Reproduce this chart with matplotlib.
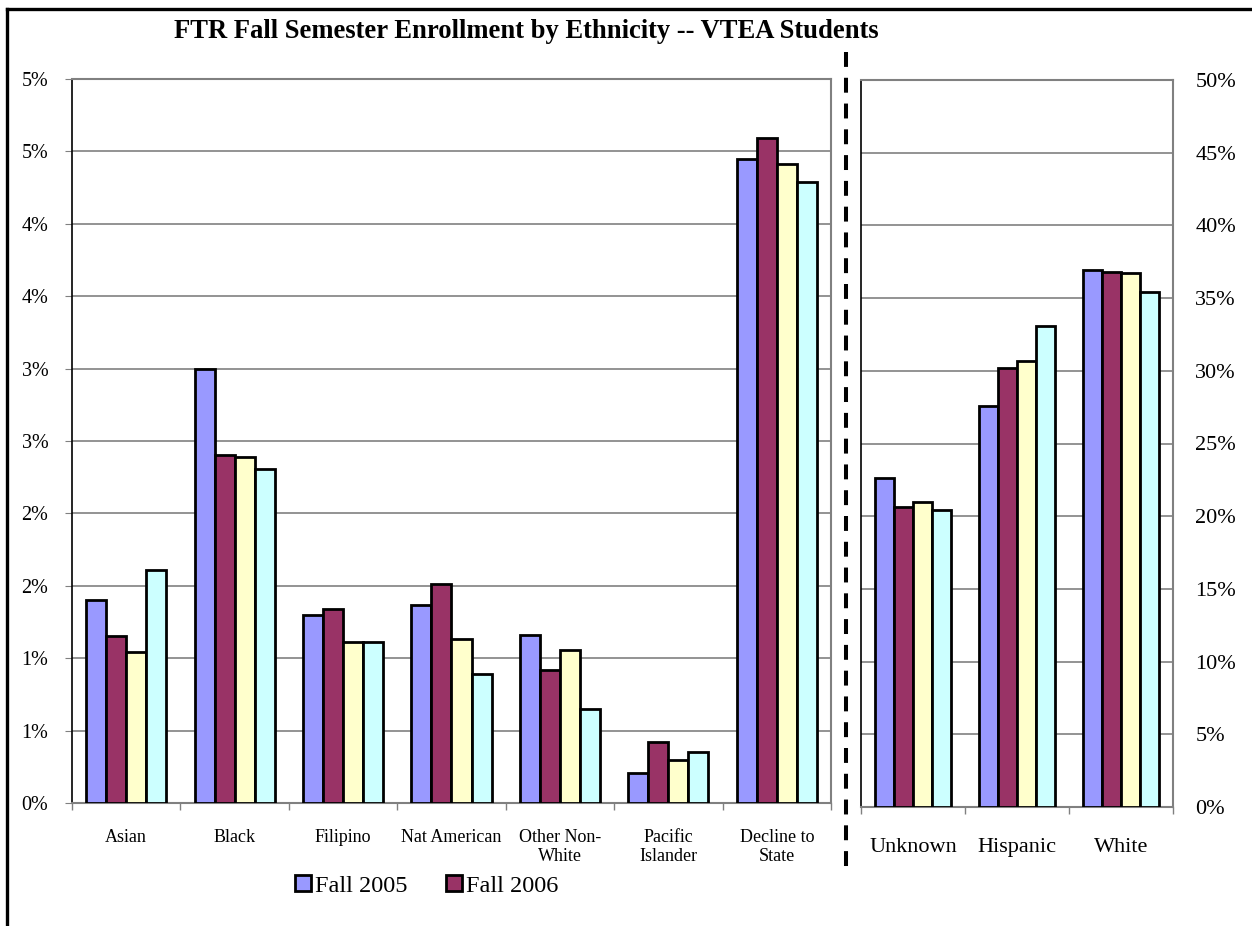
import matplotlib.pyplot as plt
import numpy as np
from matplotlib.lines import Line2D

plt.rcParams['font.family'] = ['Liberation Serif', 'DejaVu Serif']

# data (percent of enrollment)
left_cats = ['Asian', 'Black', 'Filipino', 'Nat American', 'Other Non-\nWhite',
             'Pacific\nIslander', 'Decline to\nState']
right_cats = ['Unknown', 'Hispanic', 'White']
series = ['Fall 2005', 'Fall 2006', 'Fall 2007', 'Fall 2008']
colors = ['#9999FF', '#993366', '#FFFFCC', '#CCFFFF']

left_vals = [
    [1.40, 3.00, 1.30, 1.37, 1.16, 0.21, 4.45],   # Fall 2005
    [1.15, 2.40, 1.34, 1.51, 0.92, 0.42, 4.59],   # Fall 2006
    [1.04, 2.39, 1.11, 1.13, 1.06, 0.30, 4.41],   # Fall 2007
    [1.61, 2.31, 1.11, 0.89, 0.65, 0.35, 4.29],   # Fall 2008
]
right_vals = [
    [22.6, 27.6, 36.9],
    [20.6, 30.2, 36.8],
    [21.0, 30.7, 36.7],
    [20.4, 33.1, 35.4],
]

left_ticks = [0, 0.5, 1, 1.5, 2, 2.5, 3, 3.5, 4, 4.5, 5]
left_tick_labels = ['0%', '1%', '1%', '2%', '2%', '3%', '3%', '4%', '4%', '5%', '5%']
right_ticks = [0, 5, 10, 15, 20, 25, 30, 35, 40, 45, 50]
right_tick_labels = ['0%', '5%', '10%', '15%', '20%', '25%', '30%', '35%', '40%', '45%', '50%']

W, H = 1252, 926
fig = plt.figure(figsize=(W / 100, H / 100), dpi=100)

ax1 = fig.add_axes([72 / W, 1 - 803 / H, 759 / W, 724 / H])
ax2 = fig.add_axes([861 / W, 1 - 807 / H, 312 / W, 727 / H])

grid_c = '#808080'


def draw_bars(ax, cats, vals, width):
    x = np.arange(len(cats))
    bars = []
    for i, (v, c) in enumerate(zip(vals, colors)):
        b = ax.bar(x + (i - 1.5) * width, v, width, color=c, edgecolor='black',
                   linewidth=2.0, label=series[i], zorder=3)
        bars.append(b)
    ax.set_xlim(-0.5, len(cats) - 0.5)
    ax.set_xticks(x)
    ax.set_xticks(np.arange(len(cats) + 1) - 0.5, minor=True)
    ax.tick_params(axis='x', which='major', length=0)
    ax.tick_params(axis='x', which='minor', length=5, color=grid_c, width=1)
    ax.yaxis.grid(True, color=grid_c, linewidth=1.2, zorder=0)
    ax.set_axisbelow(True)
    for s in ['top', 'right', 'bottom']:
        ax.spines[s].set_color(grid_c)
        ax.spines[s].set_linewidth(1.5)
    ax.spines['left'].set_color('black')
    ax.spines['left'].set_linewidth(1.2)
    return bars


bars = draw_bars(ax1, left_cats, left_vals, 0.1845)
ax1.set_ylim(0, 5)
ax1.set_yticks(left_ticks)
ax1.set_yticklabels(left_tick_labels, fontsize=14.5)
ax1.tick_params(axis='y', length=5, color=grid_c, pad=12)
ax1.set_xticklabels(left_cats, fontsize=13, linespacing=1.1, va='top')
ax1.tick_params(axis='x', which='major', pad=19)

draw_bars(ax2, right_cats, right_vals, 0.182)
ax2.set_ylim(0, 50)
ax2.set_yticks(right_ticks)
ax2.yaxis.tick_right()
ax2.set_yticklabels(right_tick_labels, fontsize=16)
ax2.tick_params(axis='y', length=0, pad=16)
ax2.set_xticklabels(right_cats, fontsize=16)
ax2.tick_params(axis='x', which='major', pad=22)

fig.text(526 / W, 1 - 32 / H, 'FTR Fall Semester Enrollment by Ethnicity -- VTEA Students',
         ha='center', va='center', fontsize=19.2, fontweight='bold')

# dashed divider between the two panels
fig.add_artist(Line2D([846 / W, 846 / W], [1 - 52 / H, 1 - 872 / H], color='black',
                      linewidth=2.9, dashes=(3.7, 2.7)))

# outer chart border (top and left edges visible)
fig.add_artist(Line2D([7 / W, 1], [1 - 9 / H, 1 - 9 / H], color='black', linewidth=2.4))
fig.add_artist(Line2D([7 / W, 7 / W], [1 - 9 / H, 0], color='black', linewidth=2.4))

# legend box hides the bottom of the "White" label, as in the original
leg = fig.legend(handles=[bars[0], bars[1]], labels=series[:2], loc='center left',
                 bbox_to_anchor=(282 / W, 1 - 886 / H), ncol=2, fontsize=17.5,
                 frameon=True, facecolor='white', edgecolor='none', fancybox=False,
                 framealpha=1, handlelength=0.65, handleheight=0.65, handletextpad=0.15,
                 columnspacing=1.6, borderpad=0.55, borderaxespad=0)

fig.savefig('out.png', dpi=100)
